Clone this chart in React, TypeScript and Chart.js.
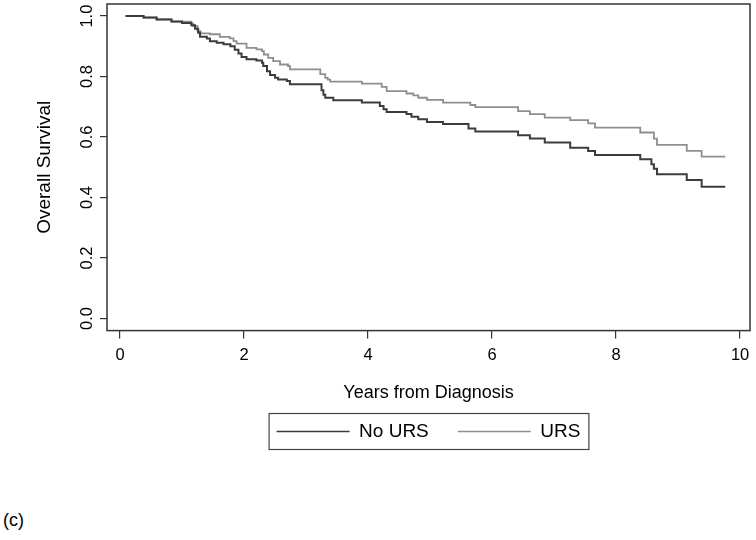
import React, { useEffect, useRef } from "react";
import { Chart, registerables } from "chart.js";

Chart.register(...registerables);

// ---- data ----
const seriesNames = ["No URS", "URS"];

const noUrsTimes = [
  0.09, 0.38, 0.59, 0.83, 1.0, 1.15, 1.21, 1.26, 1.29, 1.4, 1.45, 1.56, 1.67, 1.78, 1.85, 1.91, 1.96,
  2.04, 2.2, 2.29, 2.31, 2.37, 2.42, 2.5, 2.55, 2.69, 2.74, 3.25, 3.28, 3.31, 3.44, 3.9, 4.19, 4.25,
  4.3, 4.62, 4.7, 4.81, 4.95, 5.21, 5.62, 5.73, 6.42, 6.61, 6.85, 7.26, 7.55, 7.66, 8.39, 8.57, 8.61,
  8.66, 9.14, 9.38, 9.76,
];
const noUrsSurv = [
  1.0, 0.995, 0.989, 0.982, 0.977, 0.97, 0.958, 0.945, 0.932, 0.926, 0.917, 0.912, 0.907, 0.9, 0.889,
  0.876, 0.865, 0.857, 0.853, 0.846, 0.835, 0.818, 0.805, 0.796, 0.79, 0.785, 0.775, 0.755, 0.74, 0.73,
  0.722, 0.714, 0.703, 0.692, 0.683, 0.676, 0.667, 0.659, 0.65, 0.643, 0.628, 0.618, 0.606, 0.595,
  0.582, 0.565, 0.554, 0.541, 0.527, 0.51, 0.495, 0.477, 0.458, 0.436, 0.436,
];

const ursTimes = [
  0.09, 0.38, 0.59, 0.83, 1.15, 1.18, 1.25, 1.3, 1.45, 1.61, 1.77, 1.83, 1.88, 2.04, 2.2, 2.29, 2.32,
  2.39, 2.47, 2.58, 2.71, 2.74, 3.23, 3.31, 3.35, 3.39, 3.9, 4.22, 4.3, 4.62, 4.73, 4.81, 4.95, 5.21,
  5.65, 5.73, 6.42, 6.61, 6.85, 7.26, 7.55, 7.66, 8.39, 8.61, 8.66, 9.14, 9.38, 9.76,
];
const ursSurv = [
  1.0, 0.995, 0.989, 0.982, 0.975, 0.967, 0.95, 0.943, 0.94, 0.931, 0.926, 0.917, 0.909, 0.895, 0.89,
  0.884, 0.873, 0.862, 0.851, 0.84, 0.835, 0.824, 0.808, 0.796, 0.79, 0.783, 0.777, 0.766, 0.752,
  0.744, 0.738, 0.73, 0.723, 0.714, 0.706, 0.699, 0.686, 0.676, 0.664, 0.656, 0.645, 0.631, 0.615,
  0.595, 0.574, 0.554, 0.535, 0.535,
];

const xTickValues = [0, 2, 4, 6, 8, 10];
const yTickValues = [0, 0.2, 0.4, 0.6, 0.8, 1.0];
const xTitle = "Years from Diagnosis";
const yTitle = "Overall Survival";
const panelLabel = "(c)";

const FONT = "'Liberation Sans', Arial, Helvetica, sans-serif";

function toPoints(ts: number[], ss: number[]) {
  return ts.map((t, i) => ({ x: t, y: ss[i] }));
}

const framePlugin = {
  id: "frameAndLegendBox",
  afterDraw(chart: any) {
    const { ctx, chartArea } = chart;
    ctx.save();
    ctx.strokeStyle = "#333";
    ctx.lineWidth = 1.5;
    ctx.strokeRect(
      chartArea.left,
      chartArea.top,
      chartArea.right - chartArea.left,
      chartArea.bottom - chartArea.top
    );
    const lg = chart.legend;
    if (lg && lg.legendHitBoxes && lg.legendHitBoxes.length) {
      const hb = lg.legendHitBoxes;
      const first = hb[0];
      const last = hb[hb.length - 1];
      const cy = first.top + first.height / 2;
      const l = first.left - 7.5;
      const r = last.left + last.width + 8.5;
      ctx.lineWidth = 1.2;
      ctx.strokeStyle = "#444";
      ctx.strokeRect(l, cy - 18, r - l, 36);
    }
    ctx.restore();
  },
};

export default function App() {
  const ref = useRef<HTMLCanvasElement>(null);

  useEffect(() => {
    if (!ref.current) return;
    Chart.defaults.font.family = FONT;
    const chart = new Chart(ref.current, {
      type: "line",
      data: {
        datasets: [
          {
            label: seriesNames[0],
            data: toPoints(noUrsTimes, noUrsSurv),
            borderColor: "#3c3c3c",
            backgroundColor: "#3c3c3c",
            borderWidth: 2,
            pointRadius: 0,
            stepped: "before",
            fill: false,
          },
          {
            label: seriesNames[1],
            data: toPoints(ursTimes, ursSurv),
            borderColor: "#8e8e8e",
            backgroundColor: "#8e8e8e",
            borderWidth: 1.8,
            pointRadius: 0,
            stepped: "before",
            fill: false,
          },
        ],
      },
      options: {
        animation: false,
        responsive: true,
        maintainAspectRatio: false,
        layout: { padding: { left: 29, right: 6, top: 4, bottom: 0 } },
        scales: {
          x: {
            type: "linear",
            min: -0.21,
            max: 10.16,
            afterBuildTicks: (s: any) => {
              s.ticks = xTickValues.map((v) => ({ value: v }));
            },
            afterFit: (s: any) => {
              s.paddingLeft = 0;
              s.paddingRight = 0;
            },
            grid: {
              display: true,
              drawOnChartArea: false,
              drawTicks: true,
              tickLength: 8,
              color: "#333",
              lineWidth: 1.2,
            },
            border: { display: false },
            ticks: {
              padding: 7,
              color: "#000",
              font: { family: FONT, size: 16.5 },
              maxRotation: 0,
              autoSkip: false,
              callback: (v: any) => String(v),
            },
            title: {
              display: true,
              text: xTitle,
              color: "#000",
              font: { family: FONT, size: 18 },
              padding: { top: 10, bottom: -11 },
            },
          },
          y: {
            type: "linear",
            min: -0.04,
            max: 1.04,
            afterBuildTicks: (s: any) => {
              s.ticks = yTickValues.map((v) => ({ value: v }));
            },
            afterFit: (s: any) => {
              s.width = 78;
              s.paddingTop = 0;
              s.paddingBottom = 0;
            },
            grid: {
              display: true,
              drawOnChartArea: false,
              drawTicks: true,
              tickLength: 7,
              color: "#333",
              lineWidth: 1.2,
            },
            border: { display: false },
            ticks: {
              padding: 1,
              minRotation: 90,
              maxRotation: 90,
              crossAlign: "center",
              color: "#000",
              font: { family: FONT, size: 16.5 },
              autoSkip: false,
              callback: (v: any) => Number(v).toFixed(1),
            },
            title: {
              display: true,
              text: yTitle,
              color: "#000",
              font: { family: FONT, size: 19 },
              padding: { top: 4, bottom: 4 },
            },
          },
        },
        plugins: {
          legend: {
            position: "bottom",
            fullSize: false,
            labels: {
              usePointStyle: true,
              pointStyle: "line",
              pointStyleWidth: 73,
              padding: 29,
              color: "#000",
              font: { family: FONT, size: 19 },
              generateLabels: (c: any) => {
                const items = (Chart as any).defaults.plugins.legend.labels.generateLabels(c);
                return items.map((it: any) => ({ ...it, lineWidth: 1.5 }));
              },
            },
          },
          tooltip: { enabled: false },
        },
      } as any,
      plugins: [framePlugin],
    });
    return () => chart.destroy();
  }, []);

  return (
    <div
      style={{
        position: "absolute",
        left: 0,
        top: 0,
        width: 756,
        height: 540,
        background: "#fff",
      }}
    >
      <div style={{ position: "absolute", left: 0, top: 0, width: 756, height: 451 }}>
        <canvas ref={ref} />
      </div>
      <div
        style={{
          position: "absolute",
          left: 3,
          top: 511,
          fontFamily: FONT,
          fontSize: 18,
          lineHeight: 1,
          color: "#000",
        }}
      >
        {panelLabel}
      </div>
    </div>
  );
}
